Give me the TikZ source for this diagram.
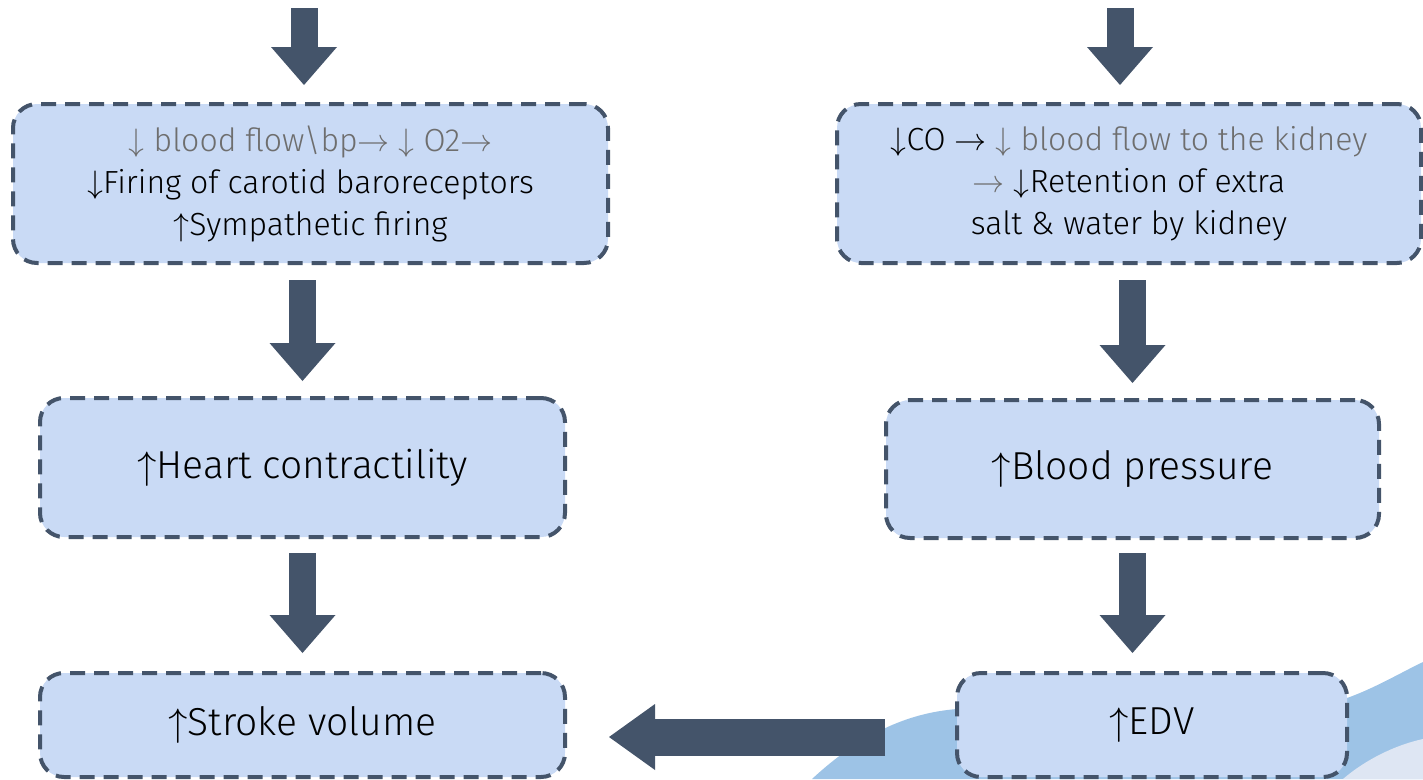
\documentclass[tikz,border=0pt]{standalone}
\usepackage{fontspec}
\setmainfont{Fira Sans Light}
\newfontfamily\arrfont{Latin Modern Math}
\usetikzlibrary{arrows.meta}
\definecolor{boxfill}{HTML}{C9DAF5}
\definecolor{boxline}{HTML}{44546A}
\definecolor{arrowcol}{HTML}{44546A}
\definecolor{txtgray}{HTML}{6E6E6E}
\definecolor{band}{HTML}{9DC3E6}
\definecolor{pale}{HTML}{DEE6F3}
\newcommand{\dn}{{\arrfont ↓}}
\newcommand{\up}{{\arrfont ↑}}
\newcommand{\ra}{{\arrfont →}}
\tikzset{
  box/.style={draw=boxline, line width=4pt, dash pattern=on 15pt off 9pt,
    fill=boxfill, rounded corners=24pt, align=center, inner sep=0pt},
  small/.style={font=\fontsize{32}{42}\selectfont},
  big/.style={font=\fontsize{39}{44}\selectfont},
  blk/.style={draw=arrowcol, line width=27pt,
    -{Triangle[width=66pt,length=38pt,line width=0pt]}},
  blkh/.style={draw=arrowcol, line width=37pt,
    -{Triangle[width=66pt,length=46pt,line width=0pt]}}
}
\begin{document}
\begin{tikzpicture}[x=1pt,y=-1pt]
\useasboundingbox (0,0) rectangle (1423,779);
% background shapes
\fill[band] (812,779) .. controls (870,725) and (920,712) .. (957,709)
  -- (1347,698) .. controls (1375,688) and (1400,673) .. (1423,662)
  -- (1423,779) -- cycle;
\fill[pale] (1343,779) .. controls (1365,760) and (1395,745) .. (1423,739)
  -- (1423,779) -- cycle;
% boxes
\node[box, small, minimum width=595pt, minimum height=159pt] (b1) at (310.5,183.5)
  {{\color{txtgray}\dn{} blood flow\textbackslash bp\ra{} \dn{} O2\ra}\\\dn Firing of carotid baroreceptors\\\up Sympathetic firing};
\node[box, small, minimum width=584pt, minimum height=159pt] (b2) at (1129,183.5)
  {\dn CO \ra{} {\color{txtgray}\dn{} blood flow to the kidney}\\{\color{txtgray}\ra} \dn Retention of extra\\salt \& water by kidney};
\node[box, big, minimum width=525pt, minimum height=139pt] (b3) at (302.5,467.5) {\up Heart contractility};
\node[box, big, minimum width=493pt, minimum height=138pt] (b4) at (1132.5,469) {\up Blood pressure};
\node[box, big, minimum width=525pt, minimum height=104pt] (b5) at (302.5,725) {\up Stroke volume};
\node[box, big, minimum width=390pt, minimum height=104pt] (b6) at (1152,725) {\up EDV};
% incoming arrows from above
\coordinate (inL) at (304,8);
\coordinate (inR) at (1120,8);
\draw[blk] (inL) -- ++(0,77);
\draw[blk] (inR) -- ++(0,77);
% connectors
\draw[blk, shorten <=15pt, shorten >=15pt] (b3.north |- b1.south) -- (b3.north);
\draw[blk, shorten <=15pt, shorten >=15pt] (b4.north |- b2.south) -- (b4.north);
\draw[blk, shorten <=14pt, shorten >=18pt] (b5.north |- b3.south) -- (b5.north);
\draw[blk, shorten <=13pt, shorten >=18pt] (b4.south) -- (b4.south |- b6.north);
\draw[blkh, shorten <=70pt, shorten >=42pt] ([yshift=-12pt]b6.west) -- ([yshift=-12pt]b5.east);
\end{tikzpicture}
\end{document}
